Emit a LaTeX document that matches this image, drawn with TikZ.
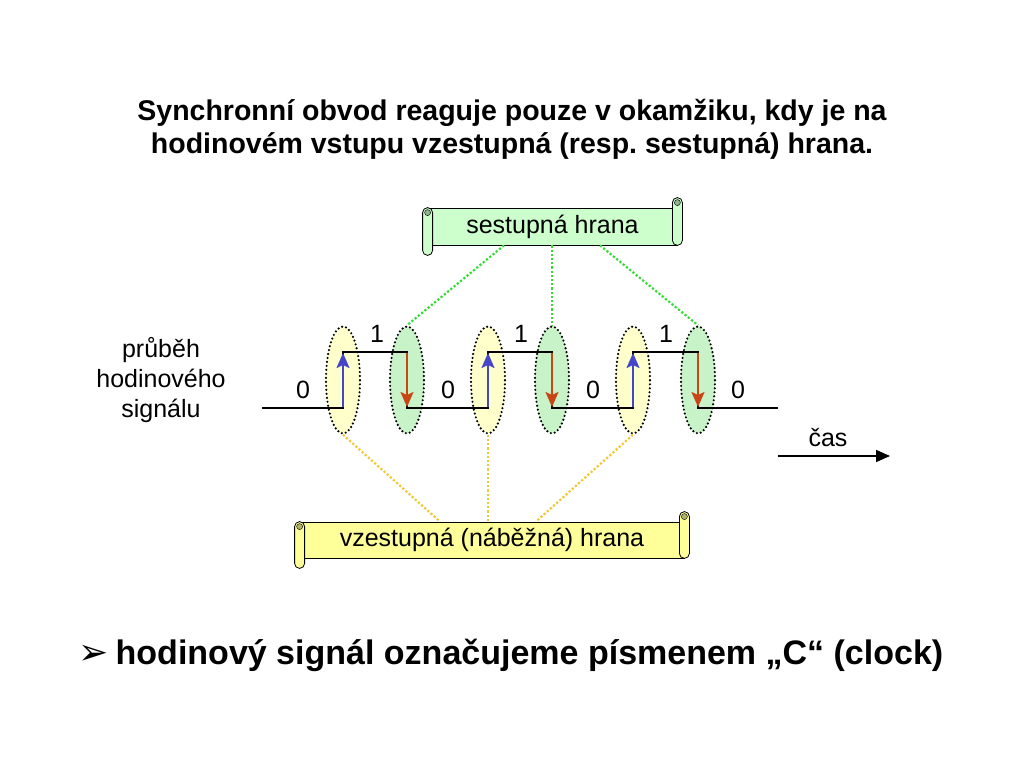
\documentclass[tikz,border=0pt]{standalone}
\usepackage{fontspec}
\setmainfont{Liberation Sans}
\newfontfamily\symbfont{DejaVu Sans}
\usetikzlibrary{shapes.geometric,calc,arrows.meta}
\frenchspacing
\definecolor{notegreen}{RGB}{204,255,204}
\definecolor{notegold}{RGB}{255,255,153}
\definecolor{ovalgreen}{RGB}{200,242,200}
\definecolor{ovalgold}{RGB}{255,255,204}
\definecolor{linegreen}{RGB}{51,220,51}
\definecolor{linegold}{RGB}{240,200,50}
\definecolor{uparrow}{RGB}{70,70,200}
\definecolor{downarrow}{RGB}{200,70,20}
\tikzset{
  banner/.style={draw, thick, inner sep=0pt, font=\fontsize{25}{30}\selectfont},
  edgeoval/.style={ellipse, draw, dash pattern=on 0pt off 4pt, line cap=round, line width=2.4pt, minimum width=34, minimum height=107, inner sep=0pt},
  level/.style={font=\fontsize{25}{30}\selectfont, inner sep=0pt},
  edgearrow/.style={line width=2pt, -{Stealth[length=15pt,width=13pt,inset=3pt]}},
  hint/.style={dotted, line width=2.2pt}
}
\begin{document}
\begin{tikzpicture}[x=1pt,y=-1pt]
\useasboundingbox (0,0) rectangle (1024,768);
%Titulek%
\node[align=center, font=\bfseries\fontsize{28.5}{33}\selectfont] (title) at (512,129)
  {Synchronní obvod reaguje pouze v okamžiku, kdy je na\\hodinovém vstupu vzestupná (resp. sestupná) hrana.};
%Ovaly%
\foreach \x/\n in {343/1,488/2,633/3}
  \node[edgeoval, fill=ovalgold] (r\n) at (\x,380) {};
\foreach \x/\n in {407/1,552/2,698/3}
  \node[edgeoval, fill=ovalgreen] (f\n) at (\x,380) {};
%Signal%
\draw[line width=2pt] (262,408) -| (343,352) -| (407,408) -| (488,352) -| (552,408) -| (633,352) -| (698,408) -- (778,408);
\foreach \x in {343,488,633}
  \draw[edgearrow, uparrow] (\x,407) -- (\x,353);
\foreach \x in {407,552,698}
  \draw[edgearrow, downarrow] (\x,353) -- (\x,407);
\foreach \x in {377,521,666}
  \node[level] at (\x,334) {1};
\foreach \x in {303,448,593,738}
  \node[level] at (\x,390) {0};
\node[align=center, font=\fontsize{25}{30}\selectfont] (signal) at (161,380) {průběh\\hodinového\\signálu};
%Cas%
\node[level] (time) at (828,438) {čas};
\coordinate (t0) at (778,456);
\coordinate (t1) at (890,456);
\draw[line width=1.5pt, -{Triangle[length=14pt,width=12pt]}] (t0) -- (t1);
%Svitky%
\node[banner, fill=notegreen, minimum width=249, minimum height=37] (fallnote) at (552.5,226.5) {sestupná hrana};
\filldraw[fill=notegreen, thick, rounded corners=5] ($(fallnote.north east)+(-5,-10)$) rectangle ($(fallnote.south east)+(5,0)$);
\filldraw[fill=notegreen, thick, rounded corners=5] ($(fallnote.north west)+(-5,0)$) rectangle ($(fallnote.south west)+(5,10)$);
\filldraw[fill=notegreen!70!black, thin] ($(fallnote.north east)+(0,-5)$) circle[radius=3];
\filldraw[fill=notegreen!70!black, thin] ($(fallnote.north west)+(0,5)$) circle[radius=3];
\node[banner, fill=notegold, minimum width=384, minimum height=36] (risenote) at (492,540) {vzestupná (náběžná) hrana};
\filldraw[fill=notegold, thick, rounded corners=5] ($(risenote.north east)+(-5,-10)$) rectangle ($(risenote.south east)+(5,0)$);
\filldraw[fill=notegold, thick, rounded corners=5] ($(risenote.north west)+(-5,0)$) rectangle ($(risenote.south west)+(5,10)$);
\filldraw[fill=notegold!70!black, thin] ($(risenote.north east)+(0,-5)$) circle[radius=3];
\filldraw[fill=notegold!70!black, thin] ($(risenote.north west)+(0,5)$) circle[radius=3];
%Spojnice%
\draw[linegreen, hint] ($(f2.north |- fallnote.south)+(-48,0)$) -- (f1.north);
\draw[linegreen, hint] (f2.north |- fallnote.south) -- (f2.north);
\draw[linegreen, hint] ($(f2.north |- fallnote.south)+(48,0)$) -- (f3.north);
\draw[linegold, hint] (r1.south) -- ($(r2.south |- risenote.north)+(-48,0)$);
\draw[linegold, hint] (r2.south) -- (r2.south |- risenote.north);
\draw[linegold, hint] (r3.south) -- ($(r2.south |- risenote.north)+(48,0)$);
%Poznamka%
\node[anchor=west, font=\bfseries\fontsize{34}{40}\selectfont] (clock) at (75,655)
  {{\symbfont\fontsize{36}{40}\selectfont ➢}\hspace{7pt}hodinový signál označujeme písmenem „C“ (clock)};
\end{tikzpicture}
\end{document}
